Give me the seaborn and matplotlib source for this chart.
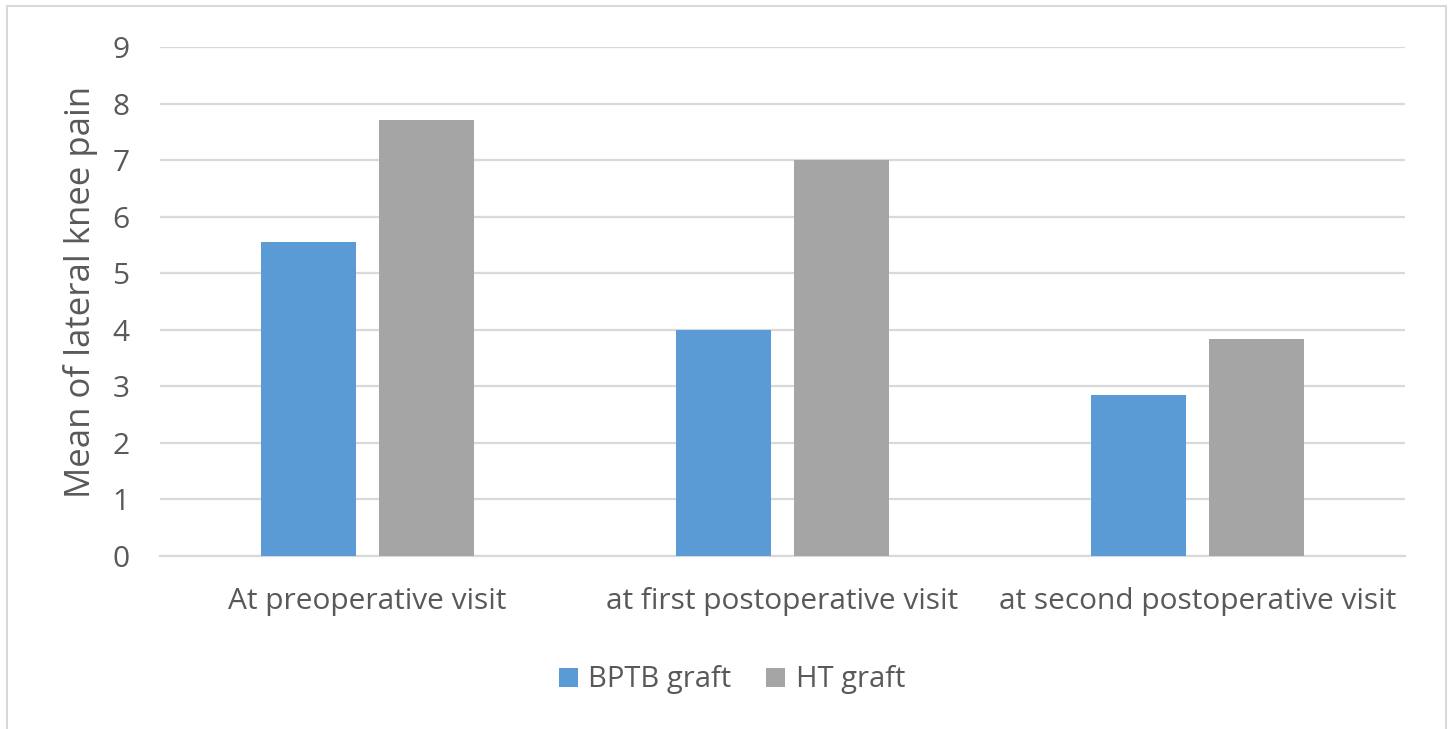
import matplotlib
matplotlib.use("Agg")
import matplotlib.pyplot as plt
import seaborn as sns
import pandas as pd
from matplotlib.patches import Rectangle, Patch

categories = ["At preoperative visit", "at first postoperative visit", "at second postoperative visit"]
series_names = ["BPTB graft", "HT graft"]
bptb_values = [5.56, 4.0, 2.85]
ht_values = [7.71, 7.0, 3.83]
y_ticks = [0, 1, 2, 3, 4, 5, 6, 7, 8, 9]
y_label = "Mean of lateral knee pain"
colors = ["#5B9BD5", "#A5A5A5"]

df = pd.DataFrame({
    "visit": categories * 2,
    "graft": [series_names[0]] * 3 + [series_names[1]] * 3,
    "value": bptb_values + ht_values,
})

sns.set_theme(style="white")
plt.rcParams["font.family"] = ["Open Sans", "DejaVu Sans"]
text_color = "#595959"

W, H = 1452, 729
fig = plt.figure(figsize=(W / 100, H / 100), dpi=100)
ax = fig.add_axes([160 / W, 1 - 556 / H, (1405 - 160) / W, (556 - 47) / H])

sns.barplot(data=df, x="visit", y="value", hue="graft", order=categories,
            hue_order=series_names, palette=colors, width=0.569, gap=0.203,
            ax=ax, legend=False, saturation=1, edgecolor="none", zorder=3)

ax.set_ylim(0, 9)
ax.set_xlim(-0.5, 2.5)
ax.set_yticks(y_ticks)
ax.yaxis.grid(True, color="#D9D9D9", linewidth=1.6, zorder=0)
ax.xaxis.grid(False)
for s in ["top", "right", "left"]:
    ax.spines[s].set_visible(False)
ax.spines["bottom"].set_color("#D9D9D9")
ax.spines["bottom"].set_linewidth(1.6)
ax.tick_params(axis="y", length=0, pad=22, labelsize=21.5, labelcolor=text_color)
ax.tick_params(axis="x", length=0, pad=22, labelsize=21.5, labelcolor=text_color)
ax.set_xlabel("")
ax.set_ylabel(y_label, fontsize=25, color=text_color, labelpad=10)
ax.yaxis.label.set_y(0.519)

handles = [Patch(facecolor=c, edgecolor="none") for c in colors]
fig.legend(handles, series_names, loc="center", bbox_to_anchor=(732 / W, 1 - 680 / H),
           ncol=2, frameon=False, fontsize=21, labelcolor=text_color,
           handlelength=0.65, handleheight=0.65, handletextpad=0.35, columnspacing=1.2)

fig.patches.append(Rectangle((7 / W, -0.05), (1446 - 7) / W, 1.05 - 6 / H,
                             transform=fig.transFigure, fill=False,
                             edgecolor="#D9D9D9", linewidth=1.5))

fig.savefig("out.png", dpi=100, facecolor="white")
